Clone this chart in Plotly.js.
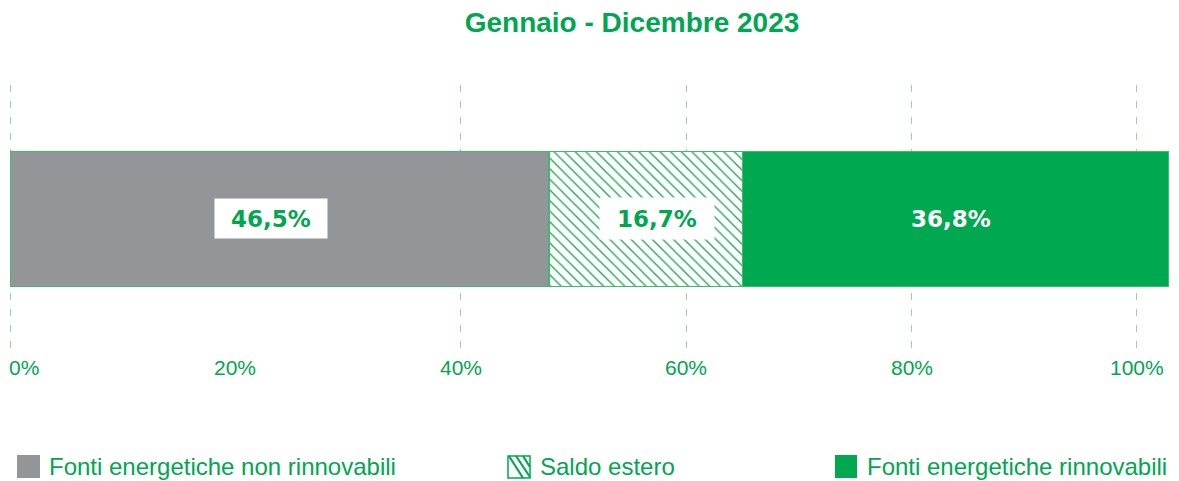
<!DOCTYPE html>
<html>
<head>
<meta charset="utf-8">
<script src="https://cdn.plot.ly/plotly-3.0.1.min.js"></script>
<style>
  html, body { margin: 0; padding: 0; background: #ffffff; }
  #chart { width: 1179px; height: 481px; }
</style>
</head>
<body>
<div id="chart"></div>
<script>
// ---- Data ----
const categories = ['Gennaio - Dicembre 2023'];
const seriesNames = ['Fonti energetiche non rinnovabili', 'Saldo estero', 'Fonti energetiche rinnovabili'];
const nonRinnovabili = [46.5];
const saldoEstero = [16.7];
const rinnovabili = [36.8];
const tickVals = [0, 20, 40, 60, 80, 100];
const tickLabels = ['0%', '20%', '40%', '60%', '80%', '100%'];
const gridVals = [0, 40, 60, 80, 100];

// ---- Styles ----
const W = 1179, H = 481;
const GREEN = '#00a650';
const BAR_GREEN = '#00a84f';
const GRAY = '#939598';
const OUTLINE = '#3dba6b';
const px = v => v / W;
const py = v => 1 - v / H;
const fmt = v => v.toFixed(1).replace('.', ',') + '%';

const series = [nonRinnovabili, saldoEstero, rinnovabili];
const markers = [
  { color: GRAY, line: { color: OUTLINE, width: 1.5 } },
  { color: '#ffffff', pattern: { shape: '\\', fgcolor: '#1faa55', bgcolor: '#ffffff', size: 7.5, solidity: 0.18 }, line: { color: OUTLINE, width: 1.5 } },
  { color: BAR_GREEN, line: { color: OUTLINE, width: 1.5 } }
];

const traces = series.map((vals, i) => ({
  type: 'bar',
  orientation: 'h',
  name: seriesNames[i],
  x: vals,
  y: categories,
  xaxis: 'x2',
  yaxis: 'y',
  width: 1.02,
  marker: markers[i],
  hoverinfo: 'skip',
  showlegend: false
}));

// Bar value labels
const labelStyle = [
  { color: GREEN, bg: '#ffffff', w: 110, h: 37, shift: -8.5 },
  { color: GREEN, bg: '#ffffff', w: 112, h: 39, shift: 11 },
  { color: '#ffffff', bg: 'rgba(0,0,0,0)', w: 110, h: 37, shift: -5 }
];
const annotations = [];
let cum = 0;
series.forEach((vals, i) => {
  const v = vals[0];
  const st = labelStyle[i];
  annotations.push({
    x: cum + v / 2, xref: 'x2', y: categories[0], yref: 'y',
    text: fmt(v), showarrow: false,
    xshift: st.shift,
    font: { family: 'DejaVu Sans, Arial, sans-serif', size: 23, color: st.color, weight: 'bold' },
    bgcolor: st.bg, width: st.w, height: st.h, align: 'center', valign: 'middle'
  });
  cum += v;
});

// Axis tick labels
tickVals.forEach((v, i) => {
  annotations.push({
    x: v, xref: 'x', y: py(367.5), yref: 'paper',
    text: tickLabels[i], showarrow: false,
    xanchor: i === 0 ? 'left' : 'center', xshift: i === 0 ? -3 : 0,
    yanchor: 'middle',
    font: { family: 'Liberation Sans, Arial, sans-serif', size: 21, color: GREEN }
  });
});

// Legend (manual, large swatches)
const LEG_Y = 466.5;
const legendX = [{ icon: 17, text: 47 }, { icon: 507, text: 538 }, { icon: 835, text: 865 }];
const shapes = [];
seriesNames.forEach((nm, i) => {
  annotations.push({
    x: px(legendX[i].text), xref: 'paper', y: py(LEG_Y), yref: 'paper',
    text: nm, showarrow: false, xanchor: 'left', yanchor: 'middle',
    font: { family: 'Liberation Sans, Arial, sans-serif', size: 24, color: GREEN }
  });
});
const legTop = LEG_Y - 11.5, legBot = LEG_Y + 11.5;
shapes.push({ type: 'rect', xref: 'paper', yref: 'paper', x0: px(17), x1: px(40), y0: py(legBot), y1: py(legTop), fillcolor: GRAY, line: { width: 0 } });
shapes.push({ type: 'rect', xref: 'paper', yref: 'paper', x0: px(835), x1: px(857), y0: py(legBot), y1: py(legTop), fillcolor: BAR_GREEN, line: { width: 0 } });
shapes.push({ type: 'rect', xref: 'paper', yref: 'paper', x0: px(508), x1: px(530), y0: py(legBot), y1: py(legTop + 1), fillcolor: '#ffffff', line: { color: BAR_GREEN, width: 1.5 } });
const hatchPath = [[509, 0, 523, 22], [516, 0, 530, 21], [523, 0, 530, 11]]
  .map(s => `M${px(s[0])},${py(legTop + 1 + s[1])} L${px(s[2])},${py(legTop + 1 + s[3])}`).join(' ');
shapes.push({ type: 'path', xref: 'paper', yref: 'paper', path: hatchPath, line: { color: BAR_GREEN, width: 2.2 } });

const layout = {
  width: W, height: H,
  margin: { l: 0, r: 0, t: 0, b: 0, pad: 0 },
  paper_bgcolor: '#ffffff', plot_bgcolor: 'rgba(0,0,0,0)',
  showlegend: false,
  barmode: 'stack',
  title: {
    text: categories[0],
    x: px(632), xref: 'paper', xanchor: 'center',
    y: 1 - 22.5 / H, yref: 'container', yanchor: 'middle',
    font: { family: 'Liberation Sans, Arial, sans-serif', size: 28, color: GREEN, weight: 'bold' }
  },
  xaxis: {
    domain: [px(9), px(1138)], range: [-0.09, 100.09], anchor: 'y',
    tickvals: gridVals, showticklabels: false, ticks: '',
    showgrid: true, gridcolor: '#94d4aa', gridwidth: 1, griddash: '7px,9px',
    zeroline: false, showline: false, fixedrange: true
  },
  xaxis2: {
    domain: [px(10), px(1169)], range: [0, 100], anchor: 'y',
    visible: false, fixedrange: true
  },
  yaxis: {
    domain: [1 - 350 / H, 1 - 85 / H], type: 'category', range: [-0.99, 1.01],
    visible: false, fixedrange: true
  },
  annotations: annotations,
  shapes: shapes
};

Plotly.newPlot('chart', traces, layout, { displayModeBar: false, staticPlot: true });
</script>
</body>
</html>
